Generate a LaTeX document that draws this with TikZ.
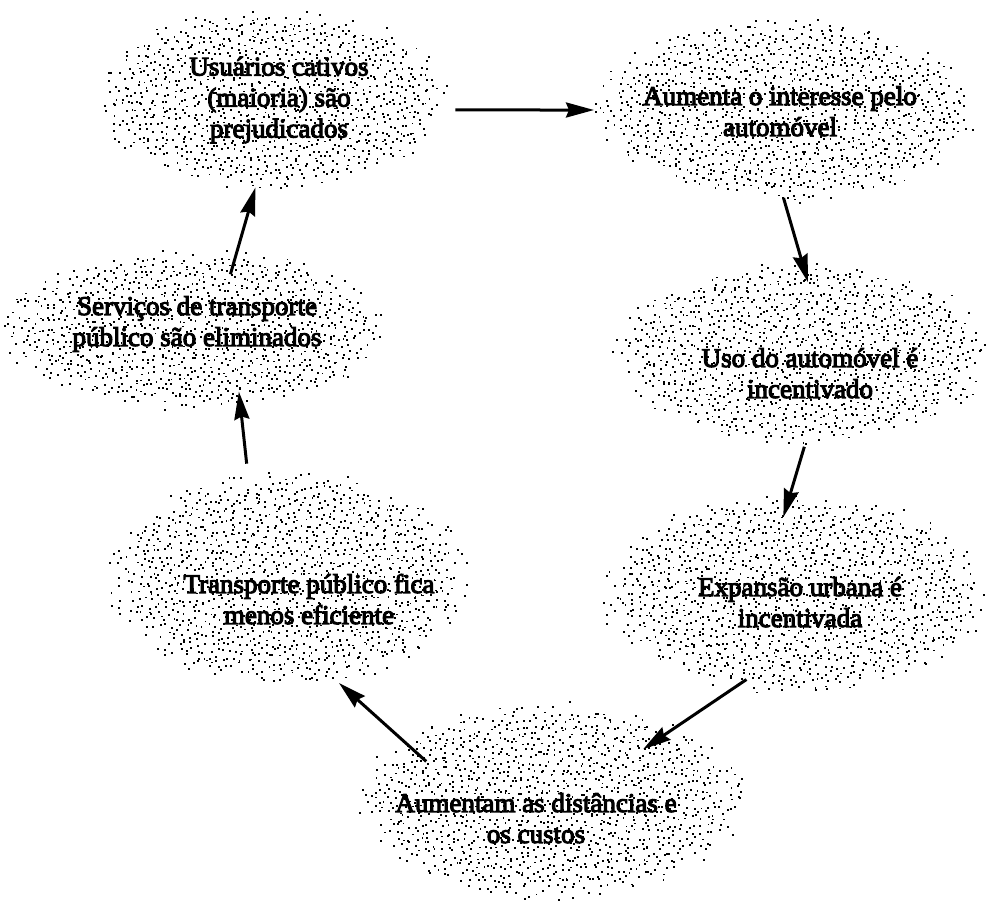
\documentclass[tikz,border=0pt]{standalone}
\usepackage{fontspec}
\setmainfont{Liberation Serif}
\newfontfamily\lblfont{Liberation Serif}[FakeBold=4]
\usetikzlibrary{shapes.geometric,arrows.meta}
% jittered-grid stipple: centre x, centre y, rx, ry
\newcommand\stipple[4]{%
  \pgfmathtruncatemacro\nx{2.2*#3/6.3}%
  \pgfmathtruncatemacro\ny{2.2*#4/6.3}%
  \foreach \i in {0,...,\nx}{%
    \foreach \j in {0,...,\ny}{%
      \pgfmathsetmacro\gx{-1.1*#3+6.3*(\i+rnd)}%
      \pgfmathsetmacro\gy{-1.1*#4+6.3*(\j+rnd)}%
      \pgfmathsetmacro\q{(\gx/#3)^2+(\gy/#4)^2-(0.86+0.2*rnd)^2}%
      \ifdim\q pt<0pt\relax \fill ({#1+\gx},{#2+\gy}) rectangle ++(1.9,1.9);\fi
    }%
  }%
}
% label: x offset, raise, lines
\newcommand\lbl[3]{\makebox[0pt][l]{\hspace*{#1}\makebox[0pt]{\raisebox{#2}[0pt][0pt]{\begin{tabular}{@{}c@{}}#3\end{tabular}}}}}
\begin{document}
\begin{tikzpicture}[x=1pt,y=-1pt,
  blob/.style={ellipse,inner sep=0pt,outer sep=0pt,font=\lblfont\fontsize{27}{31}\selectfont},
  arr/.style={line width=3pt,-{Stealth[length=28pt,width=15pt,inset=3pt]}}]
\pgfmathsetseed{4242}
\path[use as bounding box] (0,0) rectangle (986,903);
% stippled clouds
\stipple{273}{98}{173}{88}
\stipple{782}{110}{186}{88}
\stipple{193}{328}{188}{78}
\stipple{803}{353}{183}{88}
\stipple{287}{578}{176}{104}
\stipple{793}{593}{188}{97}
\stipple{550}{800}{188}{95}
% nodes
\node[blob,minimum width=346pt,minimum height=176pt] (n1) at (273,98) {\lbl{6pt}{-8.5pt}{Usuários cativos\\(maioria) são\\prejudicados}};
\node[blob,minimum width=372pt,minimum height=176pt] (n2) at (782,110) {\lbl{-2pt}{-10.5pt}{Aumenta o interesse pelo\\automóvel}};
\node[blob,minimum width=376pt,minimum height=156pt] (n3) at (193,328) {\lbl{4pt}{-2.5pt}{Serviços de transporte\\público são eliminados}};
\node[blob,minimum width=366pt,minimum height=176pt] (n4) at (803,353) {\lbl{7pt}{-29.5pt}{Uso do automóvel é\\incentivado}};
\node[blob,minimum width=352pt,minimum height=208pt] (n5) at (287,578) {\lbl{22pt}{-30.5pt}{Transporte público fica\\menos eficiente}};
\node[blob,minimum width=376pt,minimum height=194pt] (n6) at (793,593) {\lbl{7pt}{-18.5pt}{Expansão urbana é\\incentivada}};
\node[blob,minimum width=376pt,minimum height=190pt] (n7) at (550,800) {\lbl{-14pt}{-27.5pt}{Aumentam as distâncias e\\os custos}};
% arrows
\draw[arr,shorten <=11pt,shorten >=2pt] (n1.-4) -- (n2.180);
\draw[arr,shorten >=-18pt] (n2.-89) -- (n4.90);
\draw[arr,shorten <=6pt,shorten >=-22pt] (n4.-88) -- (n6.92);
\draw[arr,shorten <=-11pt,shorten >=-37pt] (n6.-121) -- (n7.30);
\draw[arr,shorten <=-31pt,shorten >=7pt] (n7.158) -- (n5.-65);
\draw[arr,shorten <=13pt,shorten >=-12pt] (n5.111) -- (n3.-58);
\draw[arr,shorten <=-23pt,shorten >=2pt] (n3.60) -- (n1.-101);
\end{tikzpicture}
\end{document}
